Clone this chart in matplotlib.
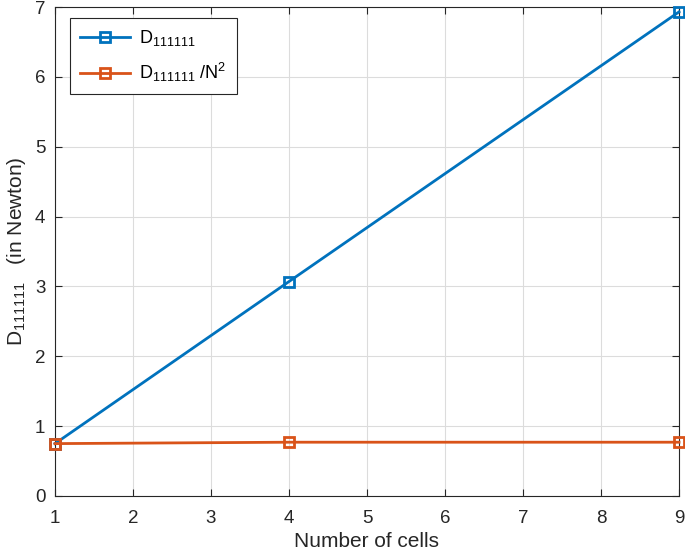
import numpy as np
import matplotlib
matplotlib.use("Agg")
import matplotlib.pyplot as plt

plt.rcParams['font.family'] = ['Liberation Sans', 'DejaVu Sans']
plt.rcParams['mathtext.fontset'] = 'custom'
plt.rcParams['mathtext.rm'] = 'Liberation Sans'
plt.rcParams['mathtext.it'] = 'Liberation Sans'

# data
cells = [1, 4, 9]
d_total = [0.75, 3.07, 6.93]
d_norm = [0.75, 0.77, 0.77]

blue = '#0072BD'
orange = '#D95319'
dark = '#262626'

fig = plt.figure(figsize=(6.85, 5.52), dpi=100)
ax = fig.add_axes([55 / 685, 56 / 552, 624 / 685, 489 / 552])

ax.plot(cells, d_total, '-s', color=blue, lw=2, ms=7, mfc='none', mew=2,
        label=r'D$_{111111}$', clip_on=False, zorder=3)
ax.plot(cells, d_norm, '-s', color=orange, lw=2, ms=7, mfc='none', mew=2,
        label=r'D$_{111111}$ /N$^{2}$', clip_on=False, zorder=3)

ax.set_xlim(1, 9)
ax.set_ylim(0, 7)
ax.set_xticks(np.arange(1, 10))
ax.set_yticks(np.arange(0, 8))
ax.grid(True, color='#dcdcdc', lw=0.8)
ax.set_axisbelow(True)
ax.tick_params(direction='in', top=True, right=True, labelsize=13.5,
               length=5, color=dark, labelcolor=dark)
ax.tick_params(axis='x', pad=10)
ax.tick_params(axis='y', pad=7)
for s in ax.spines.values():
    s.set_color(dark)
    s.set_linewidth(0.8)

ax.set_xlabel('Number of cells', fontsize=15, color=dark, labelpad=4)
ax.set_ylabel(r'D$_{111111}$   (in Newton)', fontsize=15, color=dark, labelpad=5)

leg = ax.legend(loc='upper left', fontsize=13, fancybox=False, framealpha=1,
                edgecolor=dark, handlelength=2.8, handletextpad=0.5,
                borderpad=0.55, labelspacing=0.7, borderaxespad=0,
                bbox_to_anchor=(0.024, 0.977))
leg.get_frame().set_linewidth(0.8)

fig.savefig('out.png', dpi=100)
